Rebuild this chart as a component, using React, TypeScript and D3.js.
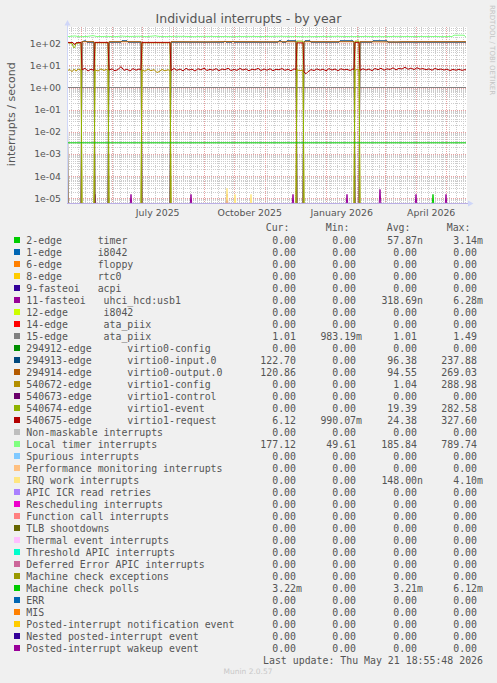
import React from 'react';
import * as d3 from 'd3';

type P = [number, number];

const START = Date.UTC(2025, 3, 16, 18, 55, 48);
const END = Date.UTC(2026, 4, 21, 18, 55, 48);
const DAY = 86400000;

// ---- series data: [day since start, interrupts/second] ----
const timerSpikes: P[] = [[365, 0], [366, 1.5e-5], [367, 0]];
const uhciSpikes: P[] = [
  [27, 0], [28, 1.5e-5], [29, 0], [63, 0], [64, 1.5e-5], [65, 0], [123, 0], [124, 1.5e-5], [125, 0],
  [159, 0], [160, 1.5e-5], [161, 0], [225, 0], [226, 1.5e-5], [227, 0], [279, 0], [280, 1.5e-5], [281, 0],
  [312, 0], [313, 2.5e-5], [314, 0], [348, 0], [349, 1.5e-5], [350, 0], [378, 0], [379, 1.5e-5], [380, 0],
];
const ataPiix15: P[] = [[0, 1.01], [399, 1.01]];
const virtio0Input: P[] = [
  [0, 112], [1, 0], [14, 0], [15, 112], [17, 128], [19, 128], [20, 112], [27, 112], [28, 0], [41, 0],
  [42, 112], [54, 112], [55, 130], [60, 130], [61, 112], [74, 112], [75, 0], [103, 0], [104, 112],
  [157, 112], [158, 128], [159, 112], [165, 112], [166, 128], [167, 112], [211, 112], [212, 130],
  [214, 130], [215, 112], [219, 112], [220, 130], [229, 130], [230, 0], [236, 0], [237, 112],
  [238, 130], [243, 130], [244, 112], [272, 112], [273, 130], [286, 130], [287, 112], [288, 0],
  [292, 0], [293, 112], [305, 112], [306, 130], [320, 130], [321, 112], [399, 112],
];
const virtio0Output: P[] = [
  [0, 118], [1, 0], [14, 0], [15, 118], [27, 118], [28, 0], [41, 0], [42, 118], [74, 118], [75, 0],
  [103, 0], [104, 118], [140, 116], [160, 119], [200, 117], [229, 118], [230, 0], [236, 0], [237, 118],
  [287, 118], [288, 0], [292, 0], [293, 118], [330, 115], [335, 118], [399, 118],
];
const virtio1Config: P[] = [
  [0, 5.8], [3, 6.5], [5, 5.2], [7, 6.8], [9, 5.5], [11, 6.9], [14, 6.1], [15, 0], [27, 0],
  [28, 6.3], [31, 5.6], [34, 7.0], [37, 5.9], [39, 6.6], [41, 6.0], [42, 0], [74, 0],
  [75, 6.2], [78, 5.5], [81, 6.9], [84, 5.8], [87, 6.5], [90, 4.8], [92, 5.2], [95, 6.6], [98, 5.7],
  [101, 6.4], [103, 5.9], [104, 0], [229, 0], [230, 6.3], [233, 5.8], [236, 6.1], [237, 0], [287, 0],
  [288, 6.0], [290, 6.6], [292, 6.2], [293, 0], [399, 0],
];
const virtio1Event: P[] = [
  [0, 106], [5, 100], [6, 75], [7, 62], [8, 70], [9, 100], [14, 106], [15, 0], [27, 0],
  [28, 106], [41, 106], [42, 0], [74, 0], [75, 106], [103, 106], [104, 0], [229, 0],
  [230, 125], [236, 125], [237, 0], [287, 0], [288, 125], [292, 125], [293, 0], [399, 0],
];
const virtio1Request: P[] = [
  [0, 110], [6, 108], [7, 92], [8, 90], [9, 106], [14, 110],
  [15, 6.3], [18, 7.4], [21, 5.6], [24, 6.8], [27, 6.0],
  [28, 110], [41, 110],
  [42, 6.2], [45, 7.0], [48, 5.7], [51, 6.6], [54, 8.8], [57, 6.0], [60, 6.8], [63, 5.6], [66, 7.2],
  [69, 6.1], [72, 6.9], [74, 6.3],
  [75, 110], [103, 110],
  [104, 5.8], [107, 7.3], [110, 6.0], [113, 6.9], [116, 5.7], [119, 7.4], [122, 6.2], [125, 6.8],
  [128, 5.6], [131, 7.1], [134, 6.3], [137, 7.6], [140, 5.9], [143, 6.7], [146, 6.1], [149, 7.2],
  [152, 5.8], [155, 6.9], [158, 6.4], [161, 7.5], [164, 5.9], [167, 6.6], [170, 6.0], [173, 7.3],
  [176, 6.2], [179, 7.0], [182, 5.7], [185, 6.8], [188, 6.3], [191, 7.4], [194, 5.9], [197, 6.9],
  [200, 6.1], [203, 7.1], [206, 5.8], [209, 6.7], [212, 6.4], [215, 7.2], [218, 6.0], [221, 6.8],
  [224, 5.7], [227, 7.0], [229, 6.4],
  [230, 105], [236, 105],
  [237, 5.0], [239, 4.2], [241, 5.2], [244, 6.5], [247, 5.9], [250, 7.0], [253, 6.1], [256, 6.8],
  [259, 5.7], [262, 7.2], [265, 6.2], [268, 6.9], [271, 5.8], [274, 7.1], [277, 6.3], [280, 6.7],
  [283, 5.9], [286, 7.0], [287, 6.5],
  [288, 110], [292, 110],
  [293, 6.0], [296, 7.1], [299, 6.2], [302, 6.9], [305, 5.8], [308, 7.3], [311, 6.4], [314, 7.5],
  [317, 6.1], [320, 7.0], [323, 6.6], [326, 7.8], [329, 6.3], [332, 7.4], [335, 6.9], [338, 8.3],
  [341, 6.7], [344, 7.6], [347, 6.5], [350, 7.9], [353, 6.8], [356, 7.2], [359, 6.4], [362, 7.0],
  [365, 6.1], [368, 7.3], [371, 6.5], [374, 6.9], [377, 6.2], [380, 6.8], [383, 5.9], [386, 6.6],
  [389, 6.1], [392, 6.7], [395, 6.0], [398, 6.5], [399, 6.3],
];
const localTimer: P[] = [
  [0, 200], [8, 215], [12, 198], [20, 204], [26, 222], [30, 201], [40, 206], [48, 199], [55, 212],
  [60, 203], [72, 208], [80, 200], [88, 218], [92, 205], [100, 201], [110, 207], [120, 204],
  [128, 199], [136, 206], [150, 203], [165, 200], [180, 205], [195, 202], [210, 207], [225, 204],
  [240, 199], [255, 203], [270, 206], [285, 201], [300, 204], [315, 200], [330, 205], [345, 202],
  [360, 204], [375, 201], [385, 203], [387, 232], [397, 232], [399, 190],
];
const irqWorkSpikes: P[] = [
  [159, 0], [160, 2.8e-5], [161, 0], [167, 0], [168, 1.5e-5], [169, 0], [183, 0], [184, 1.5e-5], [185, 0],
];
const mcePolls: P[] = [[0, 0.00321], [399, 0.00321]];

const drawOrder: { data: P[]; color: string }[] = [
  { data: timerSpikes, color: '#00CC00' },
  { data: uhciSpikes, color: '#990099' },
  { data: ataPiix15, color: '#808080' },
  { data: virtio0Input, color: '#00487D' },
  { data: virtio0Output, color: '#B35A00' },
  { data: virtio1Config, color: '#B38F00' },
  { data: virtio1Event, color: '#8FB300' },
  { data: virtio1Request, color: '#B30000' },
  { data: localTimer, color: '#80FF80' },
  { data: irqWorkSpikes, color: '#FFE680' },
  { data: mcePolls, color: '#00CC00' },
];

// ---- legend ----
const legendLabels = [
  '2-edge      timer', '1-edge      i8042', '6-edge      floppy', '8-edge      rtc0',
  '9-fasteoi   acpi', '11-fasteoi   uhci_hcd:usb1', '12-edge      i8042', '14-edge      ata_piix',
  '15-edge      ata_piix', '294912-edge      virtio0-config', '294913-edge      virtio0-input.0',
  '294914-edge      virtio0-output.0', '540672-edge      virtio1-config', '540673-edge      virtio1-control',
  '540674-edge      virtio1-event', '540675-edge      virtio1-request', 'Non-maskable interrupts',
  'Local timer interrupts', 'Spurious interrupts', 'Performance monitoring interrupts',
  'IRQ work interrupts', 'APIC ICR read retries', 'Rescheduling interrupts', 'Function call interrupts',
  'TLB shootdowns', 'Thermal event interrupts', 'Threshold APIC interrupts',
  'Deferred Error APIC interrupts', 'Machine check exceptions', 'Machine check polls', 'ERR', 'MIS',
  'Posted-interrupt notification event', 'Nested posted-interrupt event', 'Posted-interrupt wakeup event',
];
const legendColors = [
  '#00CC00', '#0066B3', '#FF8000', '#FFCC00', '#330099', '#990099', '#CCFF00', '#FF0000', '#808080',
  '#008F00', '#00487D', '#B35A00', '#B38F00', '#6B006B', '#8FB300', '#B30000', '#BEBEBE', '#80FF80',
  '#80C9FF', '#FFC080', '#FFE680', '#AA80FF', '#EE00CC', '#FF8080', '#666600', '#FFBFFF', '#00FFCC',
  '#CC6699', '#999900', '#00CC00', '#0066B3', '#FF8000', '#FFCC00', '#330099', '#990099',
];
const Z = '0.00';
const curVals = [Z, Z, Z, Z, Z, Z, Z, Z, '1.01', Z, '122.70', '120.86', Z, Z, Z, '6.12', Z, '177.12', Z, Z, Z, Z, Z, Z, Z, Z, Z, Z, Z, '3.22m', Z, Z, Z, Z, Z];
const minVals = [Z, Z, Z, Z, Z, Z, Z, Z, '983.19m', Z, Z, Z, Z, Z, Z, '990.07m', Z, '49.61', Z, Z, Z, Z, Z, Z, Z, Z, Z, Z, Z, Z, Z, Z, Z, Z, Z];
const avgVals = ['57.87n', Z, Z, Z, Z, '318.69n', Z, Z, '1.01', Z, '96.38', '94.55', '1.04', Z, '19.39', '24.38', Z, '185.84', Z, Z, '148.00n', Z, Z, Z, Z, Z, Z, Z, Z, '3.21m', Z, Z, Z, Z, Z];
const maxVals = ['3.14m', Z, Z, Z, Z, '6.28m', Z, Z, '1.49', Z, '237.88', '269.03', '288.98', Z, '282.58', '327.60', Z, '789.74', Z, Z, '4.10m', Z, Z, Z, Z, Z, Z, Z, Z, '6.12m', Z, Z, Z, Z, Z];
const colHeaders = ['Cur:', 'Min:', 'Avg:', 'Max:'];

const TITLE = 'Individual interrupts - by year';
const Y_LABEL = 'interrupts / second';
const LAST_UPDATE = 'Last update: Thu May 21 18:55:48 2026';

export default function App() {
  const L = 67, R = 467, T = 27, B = 203;
  const x = d3.scaleUtc().domain([new Date(START), new Date(END)]).range([L, R]);
  const y = d3.scaleLog().domain([Math.pow(10, -5.212), Math.pow(10, 2.736)]).range([B, T]);
  const dx = (d: number) => x(new Date(START + d * DAY));
  const yv = (v: number) => (v > 0 ? y(v) : B + 4);
  const line = d3.line<P>().x((d) => dx(d[0])).y((d) => yv(d[1]));

  const [lo, hi] = y.domain();
  const majors: number[] = [];
  const minors: number[] = [];
  for (let e = -6; e <= 3; e++) {
    for (let m = 1; m <= 9; m++) {
      const v = m * Math.pow(10, e);
      if (v < lo || v > hi) continue;
      if (m === 1) majors.push(v); else minors.push(v);
    }
  }
  const fmtE = (v: number) => {
    const e = Math.round(Math.log10(v));
    return '1e' + (e < 0 ? '-' : '+') + String(Math.abs(e)).padStart(2, '0');
  };
  const months = d3.utcMonth.range(new Date(START), new Date(END));
  const weeks = d3.utcMonday.range(new Date(START), new Date(END));
  const labelMonths = d3.utcMonth.every(3)!.range(new Date(START), new Date(END));
  const fmtMonth = d3.utcFormat('%B %Y');

  const font = 'DejaVu Sans, sans-serif';
  const mono = 'DejaVu Sans Mono, monospace';
  const txt = '#555555';
  const cw = 5.97;
  const colEnds = [302, 362, 423, 483];
  const rowY = (i: number) => 243.6 + i * 12;
  const valX = (s: string, end: number) => (/[0-9]$/.test(s) ? end - cw : end);

  return (
    <svg width={497} height={683} style={{ position: 'absolute', left: 0, top: 0, display: 'block' }}>
      <defs>
        <clipPath id="plotClip">
          <rect x={L} y={T} width={R - L} height={B - T} />
        </clipPath>
      </defs>
      <rect x={0} y={0} width={497} height={683} fill="#F0F0F0" />
      <rect x={L} y={T} width={R - L} height={B - T} fill="#FFFFFF" />
      <text x={248.5} y={22.5} textAnchor="middle" fontFamily={font} fontSize={12.5} fill={txt}>{TITLE}</text>
      <text transform="translate(490,5) rotate(90)" fontFamily={font} fontSize={7} fill="#C4C4C4">RRDTOOL / TOBI OETIKER</text>
      <text transform="translate(15,114.2) rotate(-90)" textAnchor="middle" fontFamily={font} fontSize={11} fill={txt}>{Y_LABEL}</text>

      {/* grid */}
      <g shapeRendering="crispEdges">
        {minors.map((v, i) => (
          <line key={'hm' + i} x1={L} x2={R} y1={Math.round(y(v)) + 0.5} y2={Math.round(y(v)) + 0.5} stroke="#CCCCCC" strokeDasharray="1,1" />
        ))}
        {weeks.map((d, i) => (
          <line key={'vm' + i} x1={Math.round(x(d)) + 0.5} x2={Math.round(x(d)) + 0.5} y1={T} y2={B} stroke="#CCCCCC" strokeDasharray="1,1" />
        ))}
        {majors.map((v, i) => (
          <line key={'hM' + i} x1={L} x2={R} y1={Math.round(y(v)) + 0.5} y2={Math.round(y(v)) + 0.5} stroke="#E8A0A0" strokeDasharray="1,1" />
        ))}
        {months.map((d, i) => (
          <line key={'vM' + i} x1={Math.round(x(d)) + 0.5} x2={Math.round(x(d)) + 0.5} y1={T} y2={B} stroke="#E8A0A0" strokeDasharray="1,1" />
        ))}
      </g>

      {/* data */}
      <g clipPath="url(#plotClip)">
        {drawOrder.map((s, i) => (
          <path key={'s' + i} d={line(s.data) || ''} fill="none" stroke={s.color} strokeWidth={1} />
        ))}
      </g>

      {/* axes */}
      <line x1={L} x2={470} y1={B + 0.5} y2={B + 0.5} stroke="#BBAEE6" />
      <line x1={L + 0.5} x2={L + 0.5} y1={B} y2={24} stroke="#CFD6F8" />
      <path d={`M${L + 0.5},20 L${L - 2.5},25.5 L${L + 3.5},25.5 Z`} fill="#CFD6F8" />
      <path d={`M473.5,${B + 0.5} L468,${B - 2.5} L468,${B + 3.5} Z`} fill="#CFD6F8" />

      {majors.map((v, i) => (
        <text key={'yl' + i} x={61} y={y(v) + 3.4} textAnchor="end" fontFamily={font} fontSize={9.3} fill={txt}>{fmtE(v)}</text>
      ))}
      {labelMonths.map((d, i) => {
        const mid = new Date((d.getTime() + d3.utcMonth.offset(d, 1).getTime()) / 2);
        return (
          <text key={'xl' + i} x={x(mid)} y={216} textAnchor="middle" fontFamily={font} fontSize={9.4} fill={txt}>{fmtMonth(d)}</text>
        );
      })}

      {/* legend */}
      {colHeaders.map((h, i) => (
        <text key={'h' + i} x={colEnds[i] - 12.5} y={231} textAnchor="end" fontFamily={mono} fontSize={9.9} fill={txt}>{h}</text>
      ))}
      {legendLabels.map((lab, i) => (
        <g key={'lg' + i}>
          <rect x={14} y={rowY(i) - 6.6} width={6} height={6} fill={legendColors[i]} />
          <text x={26.3} y={rowY(i)} fontFamily={mono} fontSize={9.9} fill={txt} style={{ whiteSpace: 'pre' }}>{lab}</text>
          {[curVals[i], minVals[i], avgVals[i], maxVals[i]].map((v, j) => (
            <text key={j} x={valX(v, colEnds[j])} y={rowY(i)} textAnchor="end" fontFamily={mono} fontSize={9.9} fill={txt}>{v}</text>
          ))}
        </g>
      ))}
      <text x={483} y={664} textAnchor="end" fontFamily={mono} fontSize={9.9} fill={txt} style={{ whiteSpace: 'pre' }}>{LAST_UPDATE}</text>
      <text x={248} y={674} textAnchor="middle" fontFamily={font} fontSize={7.5} fill="#C8C8C8">Munin 2.0.57</text>
    </svg>
  );
}
